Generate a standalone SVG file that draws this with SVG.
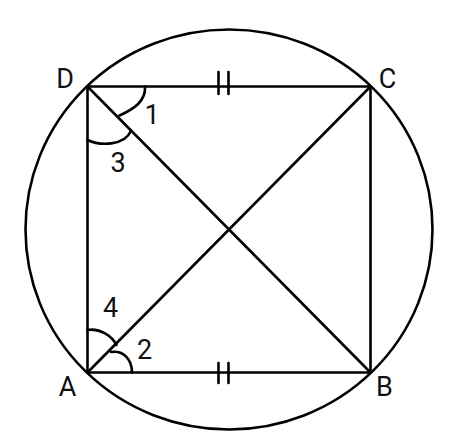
<svg xmlns="http://www.w3.org/2000/svg" width="459" height="448" viewBox="0 0 459 448">
<style>
.ln{stroke:#000;stroke-width:2.6;fill:none;stroke-linecap:round}
.lb{font-family:Roboto,"Liberation Sans",sans-serif;font-size:27px;fill:#111;text-anchor:middle}
</style>
<rect width="459" height="448" fill="#fff"/>
<g id="connectors">
<ellipse class="ln" cx="229" cy="229.5" rx="203.5" ry="200"/>
<line class="ln" x1="87.5" y1="86.5" x2="370" y2="86.5"/>
<line class="ln" x1="87.5" y1="372.5" x2="370.5" y2="372.5"/>
<line class="ln" x1="87.5" y1="86.5" x2="87.5" y2="372.5"/>
<line class="ln" x1="370.5" y1="86.5" x2="370.5" y2="372.5"/>
<line class="ln" x1="87.5" y1="86.5" x2="370.5" y2="372.5"/>
<line class="ln" x1="87.5" y1="372.5" x2="370.5" y2="86.5"/>
<line class="ln" x1="218.5" y1="72" x2="218.5" y2="94"/>
<line class="ln" x1="228.5" y1="72" x2="228.5" y2="94"/>
<line class="ln" x1="218.5" y1="363" x2="218.5" y2="383"/>
<line class="ln" x1="228.5" y1="363" x2="228.5" y2="383"/>
<path class="ln" d="M145,86.5 C146,101 134,109 119.5,115.5"/>
<path class="ln" d="M87.5,140 C100,146 124,146 131,131"/>
<path class="ln" d="M87.5,330 C100,328 112,336 116.5,345"/>
<path class="ln" d="M111,352 C124,350 132,360 132,372.5"/>
</g>
<g id="D"><text class="lb" x="65" y="88">D</text></g>
<g id="C"><text class="lb" x="387.5" y="88">C</text></g>
<g id="A"><text class="lb" x="67.5" y="396">A</text></g>
<g id="B"><text class="lb" x="384.5" y="396">B</text></g>
<g id="angle1"><text class="lb" x="152" y="123.5">1</text></g>
<g id="angle3"><text class="lb" x="118" y="171.5">3</text></g>
<g id="angle4"><text class="lb" x="110.5" y="316.5">4</text></g>
<g id="angle2"><text class="lb" x="144.5" y="359">2</text></g>
</svg>
